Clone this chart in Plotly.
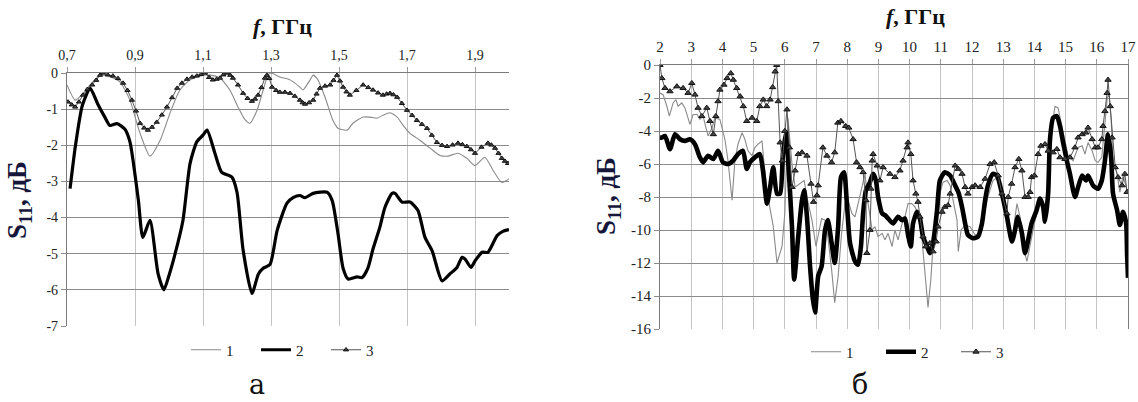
import plotly.graph_objects as go

# ---------- panel (а): 0.7 – 2.0 GHz ----------
f1_a = [0.700,0.724,0.744,0.768,0.797,0.826,0.856,0.885,0.915,0.944,0.974,1.003,1.032,1.062,1.091,1.120,1.150,1.179,1.203,1.224,
        1.238,1.259,1.277,1.291,1.300,1.326,1.356,1.385,1.394,1.415,1.424,1.438,1.459,1.482,1.497,1.524,1.541,1.571,1.591,1.612,
        1.629,1.650,1.671,1.688,1.709,1.738,1.768,1.797,1.820,1.850,1.876,1.900,1.929,1.953,1.979,1.994,2.000]
s1_a = [-0.33,-0.75,-0.60,-0.33,-0.06,-0.10,-0.25,-0.75,-1.67,-2.30,-1.86,-1.11,-0.47,-0.19,-0.08,-0.06,-0.14,-0.47,-0.94,-1.30,
        -1.39,-1.03,-0.47,-0.06,0.0,-0.11,-0.19,-0.39,-0.47,-0.19,-0.06,-0.19,-0.67,-1.31,-1.53,-1.58,-1.39,-1.22,-1.22,-1.25,
        -1.17,-1.10,-1.22,-1.44,-1.67,-1.86,-2.08,-2.28,-2.30,-2.22,-2.36,-2.56,-2.33,-2.69,-3.03,-2.97,-2.92]

f2_a = [0.709,0.725,0.745,0.768,0.790,0.810,0.826,0.847,0.870,0.885,0.894,0.910,0.923,0.944,0.968,0.985,1.000,1.018,1.041,1.062,
        1.082,1.100,1.112,1.135,1.155,1.185,1.200,1.218,1.244,1.263,1.277,1.297,1.318,1.347,1.365,1.385,1.400,1.424,1.465,1.480,
        1.497,1.512,1.527,1.553,1.568,1.585,1.600,1.620,1.635,1.656,1.665,1.685,1.709,1.732,1.753,1.774,1.803,1.826,1.847,1.862,
        1.871,1.888,1.900,1.921,1.938,1.965,1.982,2.000]
s2_a = [-3.20,-2.00,-0.90,-0.42,-0.85,-1.20,-1.45,-1.40,-1.55,-1.90,-2.40,-3.53,-4.55,-4.08,-5.56,-6.00,-5.60,-5.00,-4.08,-2.50,
        -1.90,-1.72,-1.58,-2.22,-2.75,-2.88,-3.30,-4.90,-6.10,-5.56,-5.40,-5.30,-4.36,-3.60,-3.45,-3.39,-3.45,-3.33,-3.30,-3.53,
        -4.44,-5.40,-5.70,-5.64,-5.66,-5.40,-4.87,-4.27,-3.72,-3.33,-3.33,-3.57,-3.57,-3.80,-4.55,-4.92,-5.75,-5.56,-5.38,-5.10,
        -5.15,-5.38,-5.20,-4.96,-4.96,-4.50,-4.38,-4.33]

f3_a = [0.703,0.714,0.724,0.735,0.747,0.760,0.774,0.786,0.797,0.806,0.820,0.835,0.850,0.865,0.878,0.891,0.903,0.915,0.927,0.938,
        0.950,0.964,0.979,0.994,1.009,1.024,1.038,1.053,1.068,1.082,1.094,1.106,1.118,1.129,1.140,1.150,1.160,1.171,1.180,1.188,
        1.203,1.218,1.231,1.244,1.253,1.262,1.272,1.282,1.288,1.295,1.303,1.315,1.326,1.341,1.356,1.370,1.385,1.393,1.400,1.412,
        1.424,1.434,1.444,1.459,1.474,1.484,1.494,1.503,1.512,1.522,1.532,1.551,1.571,1.586,1.600,1.615,1.629,1.640,1.650,1.660,
        1.671,1.685,1.700,1.715,1.729,1.744,1.759,1.773,1.788,1.803,1.818,1.834,1.850,1.863,1.876,1.888,1.900,1.919,1.938,1.948,
        1.959,1.969,1.979,1.988,1.997]
s3_a = [-0.80,-0.88,-0.94,-0.80,-0.61,-0.45,-0.33,-0.20,-0.06,0.0,-0.05,-0.08,-0.15,-0.28,-0.48,-0.75,-1.05,-1.39,-1.52,-1.58,
        -1.50,-1.36,-1.16,-0.94,-0.68,-0.42,-0.28,-0.17,-0.11,-0.08,-0.04,0.0,-0.12,-0.19,-0.17,-0.14,-0.05,0.0,-0.06,-0.14,
        -0.33,-0.56,-0.70,-0.78,-0.72,-0.61,-0.40,-0.14,-0.06,-0.15,-0.39,-0.48,-0.53,-0.53,-0.56,-0.64,-0.75,-0.82,-0.86,-0.82,
        -0.75,-0.58,-0.42,-0.36,-0.33,-0.20,-0.06,-0.22,-0.39,-0.52,-0.61,-0.48,-0.33,-0.40,-0.47,-0.55,-0.61,-0.58,-0.56,-0.60,
        -0.67,-0.84,-1.03,-1.17,-1.31,-1.42,-1.53,-1.72,-1.92,-2.00,-2.03,-1.99,-1.94,-1.98,-2.03,-2.12,-2.22,-2.05,-1.94,-1.99,
        -2.08,-2.22,-2.36,-2.44,-2.50]

xtick_a = [0.7, 0.9, 1.1, 1.3, 1.5, 1.7, 1.9]
xtext_a = ["0,7", "0,9", "1,1", "1,3", "1,5", "1,7", "1,9"]
ytick_a = [0, -1, -2, -3, -4, -5, -6, -7]

# ---------- panel (б): 2 – 17 GHz ----------
f1_b = [2.00,2.10,2.22,2.30,2.42,2.51,2.58,2.70,2.80,2.96,3.06,3.19,3.28,3.38,3.54,3.67,3.76,3.92,4.08,4.18,
        4.31,4.40,4.50,4.63,4.72,4.82,4.95,5.04,5.14,5.27,5.33,5.46,5.63,5.75,5.91,6.00,6.10,6.23,6.33,6.49,
        6.62,6.71,6.87,7.00,7.07,7.18,7.29,7.38,7.50,7.60,7.71,7.82,7.93,8.03,8.15,8.25,8.35,8.47,8.57,8.67,
        8.80,8.89,8.99,9.12,9.21,9.31,9.44,9.53,9.63,9.76,9.85,9.95,10.07,10.17,10.27,10.40,10.49,10.59,10.68,10.75,
        10.88,10.97,11.07,11.20,11.30,11.39,11.52,11.56,11.65,11.78,11.94,12.10,12.26,12.35,12.51,12.67,12.83,12.96,13.12,13.28,
        13.44,13.54,13.64,13.76,13.86,14.00,14.18,14.34,14.44,14.57,14.66,14.76,14.88,14.98,15.08,15.24,15.40,15.53,15.62,15.72,
        15.85,15.95,16.04,16.16,16.26,16.33,16.39,16.46,16.52,16.65,16.74,16.84,16.97]
s1_b = [-1.7,-1.8,-2.5,-3.1,-2.3,-2.1,-2.5,-2.3,-2.6,-3.6,-3.0,-3.0,-3.3,-3.1,-4.3,-3.8,-3.2,-3.3,-4.5,-5.8,
        -8.2,-5.8,-4.8,-4.1,-4.5,-5.2,-5.5,-5.0,-4.8,-4.6,-5.9,-8.0,-9.8,-12.0,-11.0,-9.0,-3.2,-6.0,-7.4,-7.2,
        -7.0,-8.0,-9.4,-11.0,-10.4,-9.3,-9.4,-10.4,-12.4,-14.4,-12.8,-10.2,-8.4,-8.2,-9.0,-9.2,-8.4,-7.4,-6.6,-8.4,
        -10.0,-9.8,-10.4,-10.2,-10.6,-10.2,-11.0,-10.0,-10.6,-9.6,-9.2,-8.4,-8.4,-8.6,-9.0,-10.6,-12.8,-14.7,-13.0,-11.0,
        -9.4,-7.8,-7.1,-7.0,-7.3,-8.2,-9.4,-11.3,-10.0,-9.7,-9.8,-10.3,-10.2,-9.4,-8.0,-7.0,-6.8,-8.0,-9.2,-10.6,
        -8.4,-9.2,-11.0,-11.9,-11.0,-9.6,-8.2,-9.0,-7.2,-3.7,-2.5,-2.6,-3.7,-4.7,-5.5,-5.8,-5.0,-4.9,-5.4,-4.7,
        -5.2,-5.8,-5.9,-5.6,-3.7,-2.1,-1.7,-3.3,-5.8,-6.6,-7.7,-6.7,-7.6]

f2_b = [2.00,2.06,2.16,2.32,2.48,2.64,2.80,2.96,3.12,3.28,3.38,3.54,3.71,3.86,4.02,4.18,4.34,4.50,4.66,4.78,
        4.88,5.04,5.20,5.30,5.43,5.53,5.63,5.75,5.85,5.94,6.04,6.10,6.23,6.30,6.43,6.55,6.62,6.71,6.81,6.90,
        6.97,7.07,7.18,7.29,7.38,7.50,7.60,7.71,7.80,7.90,7.99,8.09,8.25,8.35,8.44,8.51,8.60,8.73,8.83,8.92,
        8.99,9.12,9.21,9.31,9.47,9.63,9.76,9.85,9.95,10.04,10.11,10.24,10.33,10.43,10.56,10.65,10.75,10.88,10.97,11.13,
        11.30,11.46,11.56,11.68,11.78,11.87,12.03,12.19,12.32,12.42,12.51,12.67,12.80,12.96,13.12,13.28,13.38,13.47,13.60,13.70,
        13.80,13.91,14.07,14.18,14.28,14.34,14.44,14.50,14.60,14.72,14.82,14.92,15.04,15.14,15.30,15.40,15.53,15.65,15.72,15.88,
        16.04,16.16,16.26,16.36,16.46,16.52,16.65,16.74,16.84,16.94,16.97,17.00]
s2_b = [-4.4,-4.4,-4.3,-5.1,-4.2,-4.5,-4.6,-4.5,-4.8,-5.6,-5.9,-5.5,-5.7,-5.2,-5.9,-6.0,-5.8,-5.4,-5.2,-6.3,
        -5.9,-5.6,-5.4,-6.4,-8.4,-7.4,-6.2,-7.8,-7.8,-5.4,-4.1,-5.6,-9.8,-13.0,-10.4,-8.2,-7.6,-9.2,-12.2,-14.2,
        -15.0,-12.8,-12.2,-10.0,-9.4,-10.8,-12.0,-9.8,-6.8,-6.5,-8.4,-10.8,-11.9,-12.1,-11.0,-9.0,-7.6,-7.1,-6.6,-7.0,
        -8.0,-9.0,-9.1,-9.3,-9.6,-9.2,-9.4,-9.3,-10.3,-11.0,-9.6,-8.9,-9.3,-10.4,-11.0,-11.4,-10.8,-8.8,-7.0,-6.5,
        -6.7,-7.3,-7.7,-8.6,-9.6,-10.3,-10.5,-10.4,-9.6,-8.2,-7.3,-6.6,-6.7,-7.8,-9.2,-10.7,-10.0,-9.2,-10.2,-11.4,
        -10.6,-9.6,-8.8,-8.1,-8.6,-9.5,-7.8,-4.5,-3.2,-3.1,-3.7,-4.7,-5.8,-6.6,-8.0,-7.4,-6.7,-7.0,-6.7,-7.3,
        -7.5,-7.0,-5.8,-4.2,-5.6,-7.8,-8.8,-9.7,-8.9,-9.6,-11.4,-12.9]

f3_b = [2.00,2.06,2.16,2.32,2.54,2.74,2.90,3.02,3.12,3.22,3.34,3.50,3.60,3.71,3.79,3.86,3.92,4.05,4.15,4.27,
        4.35,4.46,4.57,4.67,4.78,4.95,5.10,5.20,5.31,5.42,5.53,5.61,5.69,5.74,5.79,5.85,5.92,6.00,6.07,6.15,
        6.23,6.33,6.43,6.55,6.71,6.84,6.92,7.03,7.07,7.22,7.35,7.50,7.60,7.70,7.80,7.95,8.05,8.19,8.30,8.41,
        8.51,8.60,8.63,8.73,8.76,8.80,8.83,8.96,9.05,9.15,9.37,9.53,9.69,9.79,9.92,9.95,10.04,10.11,10.20,10.27,
        10.33,10.43,10.52,10.65,10.75,10.85,10.91,11.04,11.13,11.23,11.30,11.46,11.56,11.68,11.78,11.87,12.00,12.10,12.26,12.42,
        12.58,12.71,12.84,12.96,13.12,13.16,13.27,13.38,13.50,13.60,13.70,13.80,13.86,13.91,14.00,14.12,14.21,14.34,14.44,14.60,
        14.72,14.82,14.98,15.14,15.30,15.40,15.53,15.65,15.72,15.85,15.95,16.04,16.16,16.20,16.26,16.33,16.36,16.43,16.49,16.59,
        16.68,16.81,16.90,16.97]
s3_b = [0.0,-0.8,-1.4,-1.6,-1.3,-1.4,-1.7,-1.1,-1.8,-2.6,-3.1,-2.6,-3.4,-4.2,-3.1,-2.2,-1.5,-1.2,-0.8,-0.5,
        -0.9,-1.4,-1.9,-2.5,-3.4,-3.2,-3.4,-2.5,-2.1,-2.5,-2.1,-1.35,-0.4,0.0,-2.2,-4.7,-5.8,-4.0,-2.7,-5.0,
        -7.4,-6.4,-5.4,-5.3,-5.5,-7.2,-8.3,-7.9,-7.3,-5.0,-5.5,-5.9,-5.3,-3.5,-3.4,-3.7,-3.8,-4.5,-5.9,-6.2,
        -6.5,-8.2,-11.4,-10.0,-7.5,-5.8,-5.4,-6.1,-7.0,-6.2,-6.6,-6.8,-6.4,-5.8,-5.0,-4.7,-5.4,-7.0,-7.8,-8.3,
        -9.2,-10.4,-11.0,-10.8,-11.3,-10.7,-9.8,-8.9,-8.6,-8.5,-7.8,-6.1,-6.3,-6.6,-7.4,-7.8,-7.4,-7.3,-7.4,-6.9,
        -6.0,-5.9,-6.7,-7.8,-9.0,-8.0,-7.2,-6.2,-5.7,-6.4,-8.0,-8.0,-7.7,-6.8,-6.7,-5.4,-4.9,-4.8,-5.2,-5.3,
        -5.1,-5.6,-5.7,-5.6,-5.0,-4.4,-4.2,-4.1,-3.8,-4.5,-5.0,-5.0,-4.5,-3.7,-2.8,-1.7,-0.9,-2.5,-4.4,-6.2,
        -6.8,-7.3,-6.6,-7.7]

xtick_b = list(range(2, 18))
ytick_b = [0, -2, -4, -6, -8, -10, -12, -14, -16]

names = ["1", "2", "3"]

W, H = 1138, 402
SERIF = "Liberation Serif"


def px_x(p):
    return p / W


def px_y(p):
    return 1 - p / H


fig = go.Figure()

panels = [
    dict(xa="x", ya="y", leg="legend", f1=f1_a, s1=s1_a, f2=f2_a, s2=s2_a, f3=f3_a, s3=s3_a,
         w2=3.2, ms=4.5, shape1="spline"),
    dict(xa="x2", ya="y2", leg="legend2", f1=f1_b, s1=s1_b, f2=f2_b, s2=s2_b, f3=f3_b, s3=s3_b,
         w2=4.6, ms=5.5, shape1="linear"),
]

for p in panels:
    fig.add_trace(go.Scatter(x=p["f1"], y=p["s1"], mode="lines", name=names[0],
                             line=dict(color="#8a8a8a", width=1.1, shape=p["shape1"], smoothing=0.6),
                             xaxis=p["xa"], yaxis=p["ya"], legend=p["leg"]))
    fig.add_trace(go.Scatter(x=p["f2"], y=p["s2"], mode="lines", name=names[1],
                             line=dict(color="#000000", width=p["w2"], shape="spline", smoothing=0.6),
                             xaxis=p["xa"], yaxis=p["ya"], legend=p["leg"]))
    fig.add_trace(go.Scatter(x=p["f3"], y=p["s3"], mode="lines+markers", name=names[2],
                             line=dict(color="#555555", width=1),
                             marker=dict(symbol="triangle-up", size=p["ms"], color="#444444",
                                         line=dict(color="#111111", width=1)),
                             xaxis=p["xa"], yaxis=p["ya"], legend=p["leg"]))

tickfont_a = dict(family=SERIF, size=14, color="#222222")
tickfont_b = dict(family=SERIF, size=15, color="#222222")

common_x = dict(side="top", showgrid=True, gridcolor="#c4c4c4", gridwidth=1,
                showline=True, linecolor="#7a7a7a", linewidth=1.2,
                ticks="outside", ticklen=5, tickcolor="#9a9a9a", zeroline=False, fixedrange=True,
                ticklabelstandoff=1, automargin=False)
common_y = dict(showgrid=True, gridcolor="#8c8c8c", gridwidth=1,
                showline=True, linecolor="#7a7a7a", linewidth=1.2,
                ticks="outside", ticklen=5, tickcolor="#8c8c8c", zeroline=False, fixedrange=True,
                automargin=False)

legend_font = dict(family=SERIF, size=15, color="#222222")

fig.update_layout(
    width=W, height=H, margin=dict(l=0, r=0, t=0, b=0, autoexpand=False),
    paper_bgcolor="white", plot_bgcolor="white",
    xaxis=dict(common_x, domain=[px_x(67), px_x(509)], range=[0.7, 2.0], anchor="y",
               tickvals=xtick_a, ticktext=xtext_a, tickfont=tickfont_a),
    yaxis=dict(common_y, domain=[px_y(326), px_y(73)], range=[-7, 0], anchor="x",
               tickvals=ytick_a, ticktext=[str(v) for v in ytick_a], tickfont=tickfont_a),
    xaxis2=dict(common_x, domain=[px_x(660), px_x(1128)], range=[2, 17], anchor="y2",
                tickvals=xtick_b, ticktext=[str(v) for v in xtick_b], tickfont=tickfont_b),
    yaxis2=dict(common_y, domain=[px_y(329), px_y(65)], range=[-16, 0], anchor="x2", mirror=True,
                tickvals=ytick_b, ticktext=[str(v) for v in ytick_b], tickfont=tickfont_b),
    legend=dict(orientation="h", x=px_x(186), y=px_y(350), xanchor="left", yanchor="middle",
                font=legend_font, entrywidth=25, itemwidth=30,
                bgcolor="rgba(0,0,0,0)", traceorder="normal"),
    legend2=dict(orientation="h", x=px_x(806), y=px_y(352), xanchor="left", yanchor="middle",
                 font=legend_font, entrywidth=30, itemwidth=30,
                 bgcolor="rgba(0,0,0,0)", traceorder="normal"),
    showlegend=True,
)

title_font = dict(family=SERIF, size=22, color="#111111")
ytitle_font = dict(family=SERIF, size=27, color="#16163a")
panel_font = dict(family="DejaVu Serif", size=27, color="#111111")

annotations = [
    dict(text="<b><i>f</i>, ГГц</b>", x=px_x(282), y=px_y(27), font=title_font),
    dict(text="<b><i>f</i>, ГГц</b>", x=px_x(915), y=px_y(16), font=title_font),
    dict(text="<b>S<sub>11</sub>, дБ</b>", x=px_x(19), y=px_y(200), textangle=-90, font=ytitle_font),
    dict(text="<b>S<sub>11</sub>, дБ</b>", x=px_x(608), y=px_y(196), textangle=-90, font=ytitle_font),
    dict(text="а", x=px_x(257), y=px_y(384), font=panel_font),
    dict(text="б", x=px_x(860), y=px_y(384), font=panel_font),
]
for a in annotations:
    fig.add_annotation(xref="paper", yref="paper", showarrow=False,
                       xanchor="center", yanchor="middle", **a)

fig.write_html("out.html")
